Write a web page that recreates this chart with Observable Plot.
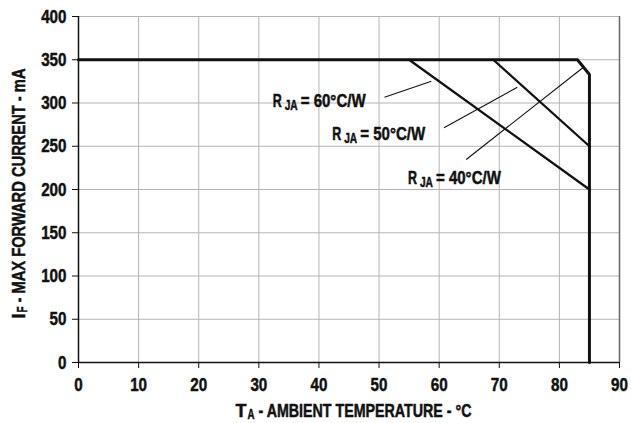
<!DOCTYPE html>
<html><head><meta charset="utf-8">
<script src="https://cdn.jsdelivr.net/npm/d3@7"></script>
<script src="https://cdn.jsdelivr.net/npm/@observablehq/plot@0.6"></script>
<style>
body{margin:0;background:#fff;}
#chart svg{font-family:"Liberation Sans",Arial,sans-serif;font-weight:bold;background:#fff;}
</style></head><body><div id="chart"></div>
<script>
// Tick values
const xTicks = [0, 10, 20, 30, 40, 50, 60, 70, 80, 90];
const yTicks = [0, 50, 100, 150, 200, 250, 300, 350, 400];

// Absolute max forward current limit (mA vs °C)
const limitT = [0, 83, 85, 85];
const limitI = [350, 350, 333, 0];

// Derating curves by thermal resistance
const rja60T = [55, 85];
const rja60I = [350, 200];
const rja50T = [69, 85];
const rja50I = [350, 250];

// Annotation labels (main letter, subscript, rest) and anchors in data units
const labelMain = ["R", "R", "R"];
const labelSub = ["JA", "JA", "JA"];
const labelRest = ["= 60°C/W", "= 50°C/W", "= 40°C/W"];
const labelT = [32.3, 42.2, 54.8];
const labelI = [302, 264, 213];

// Leader lines from the labels to the curves
const leaderT1 = [50.9, 60.8, 64.5];
const leaderI1 = [306.7, 271.3, 234.7];
const leaderT2 = [58.7, 73.0, 83.9];
const leaderI2 = [325.2, 318.2, 340.7];

// Axis titles (main letter, subscript, rest)
const xTitle = ["T", "A", "- AMBIENT TEMPERATURE - °C"];
const yTitle = ["I", "F", "- MAX FORWARD CURRENT - mA"];

const toRows = (xs, ys) => xs.map((x, i) => ({x, y: ys[i]}));
const labels = labelT.map((x, i) => ({x, y: labelI[i], a: labelMain[i], b: labelSub[i], c: labelRest[i]}));
const leaders = leaderT1.map((x1, i) => ({x1, y1: leaderI1[i], x2: leaderT2[i], y2: leaderI2[i]}));

const FS = 19, FSUB = 14;
const INK = "#111";
const txt = {fontWeight: "bold", fill: INK};
const chart = Plot.plot({
  width: 631,
  height: 423,
  marginLeft: 78,
  marginRight: 12,
  marginTop: 16,
  marginBottom: 61,
  x: {domain: [0, 90]},
  y: {domain: [0, 400]},
  marks: [
    Plot.gridX(xTicks.filter(t => t > 0 && t < 90), {stroke: "#b4b4b4", strokeOpacity: 1, strokeWidth: 1}),
    Plot.gridY(yTicks.filter(t => t > 0), {stroke: "#b4b4b4", strokeOpacity: 1, strokeWidth: 1}),
    Plot.ruleX([90], {stroke: "#666", strokeWidth: 1.5}),
    Plot.axisX({ticks: xTicks, tickSize: 6, tickPadding: 9, label: null, fontSize: FS, ...txt, stroke: INK}),
    Plot.axisY({ticks: yTicks, tickSize: 6, tickPadding: 6, label: null, fontSize: FS, ...txt, stroke: INK}),
    Plot.ruleX([0], {stroke: INK, strokeWidth: 1.5}),
    Plot.ruleY([0], {stroke: INK, strokeWidth: 1.5}),
    Plot.line(toRows(rja60T, rja60I), {x: "x", y: "y", stroke: INK, strokeWidth: 2.3}),
    Plot.line(toRows(rja50T, rja50I), {x: "x", y: "y", stroke: INK, strokeWidth: 2.3}),
    Plot.line(toRows(limitT, limitI), {x: "x", y: "y", stroke: INK, strokeWidth: 3, strokeLinejoin: "miter"}),
    Plot.link(leaders, {x1: "x1", y1: "y1", x2: "x2", y2: "y2", stroke: INK, strokeWidth: 1.1}),
    // annotation labels: R, subscript JA, "= xx°C/W"
    Plot.text(labels, {x: "x", y: "y", text: "a", textAnchor: "start", lineAnchor: "middle", fontSize: FS, ...txt}),
    Plot.text(labels, {x: "x", y: "y", text: "b", dx: 12, dy: 4, textAnchor: "start", lineAnchor: "middle", fontSize: FSUB, ...txt}),
    Plot.text(labels, {x: "x", y: "y", text: "c", dx: 28, textAnchor: "start", lineAnchor: "middle", fontSize: FS, ...txt}),
    // x title
    Plot.text([xTitle[0]], {frameAnchor: "bottom-left", dx: 157, dy: 48, textAnchor: "start", lineAnchor: "middle", fontSize: FS, ...txt}),
    Plot.text([xTitle[1]], {frameAnchor: "bottom-left", dx: 169, dy: 52, textAnchor: "start", lineAnchor: "middle", fontSize: FSUB, ...txt}),
    Plot.text([xTitle[2]], {frameAnchor: "bottom-left", dx: 180, dy: 48, textAnchor: "start", lineAnchor: "middle", fontSize: FS, ...txt}),
    // y title (rotated)
    Plot.text([yTitle[0]], {frameAnchor: "bottom-left", dx: -59.5, dy: -44, rotate: -90, textAnchor: "start", lineAnchor: "middle", fontSize: FS, ...txt}),
    Plot.text([yTitle[1]], {frameAnchor: "bottom-left", dx: -56, dy: -50, rotate: -90, textAnchor: "start", lineAnchor: "middle", fontSize: FSUB, ...txt}),
    Plot.text([yTitle[2]], {frameAnchor: "bottom-left", dx: -59.5, dy: -60, rotate: -90, textAnchor: "start", lineAnchor: "middle", fontSize: FS, ...txt})
  ]
});
document.getElementById("chart").appendChild(chart);

// Squeeze glyphs to mimic the bold condensed typeface of the original
const widthTarget = new Map([
  ["R", 9], ["JA", 13],
  ["T", 11], ["A", 7], [xTitle[2], 213],
  ["I", 5], ["F", 6], [yTitle[2], 234],
  ...labelRest.map(t => [t, 65])
]);
const SQUEEZE = 0.8;
d3.select(chart).selectAll("text").each(function () {
  const el = d3.select(this);
  const s = this.textContent;
  const natural = this.getComputedTextLength();
  const target = widthTarget.has(s) ? widthTarget.get(s) : natural * SQUEEZE;
  el.attr("textLength", target).attr("lengthAdjust", "spacingAndGlyphs")
    .style("stroke", INK).style("stroke-width", "0.5px").style("paint-order", "fill");
});
</script></body></html>
